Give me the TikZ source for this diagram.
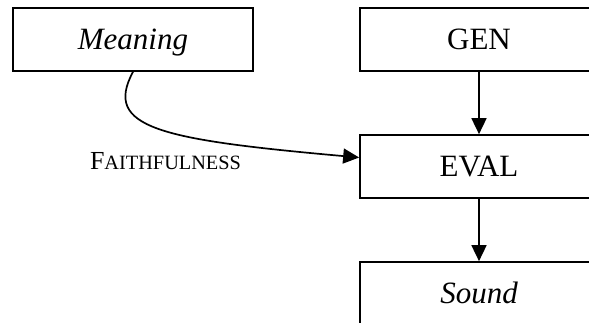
\documentclass[tikz,border=0pt]{standalone}
\usepackage{fontspec}
\setmainfont{Liberation Serif}
\usetikzlibrary{arrows.meta}
\begin{document}
\begin{tikzpicture}[x=1pt,y=-1pt,
  box/.style={draw,line width=1.7pt,minimum height=63pt,inner sep=0pt,
    text height=21pt,text depth=2pt,font=\fontsize{31}{31}\selectfont},
  conn/.style={line width=1.7pt,-{Triangle[length=16pt,width=15pt]}}]
\useasboundingbox (0,0) rectangle (589,322);
\clip (0,0) rectangle (589,322);
\node[box,minimum width=240pt] (meaning) at (133,39.5) {\itshape Meaning};
\node[box,minimum width=238pt] (gen) at (479,39.5) {GEN};
\node[box,minimum width=238pt] (eval) at (479,166.5) {EVAL};
\node[box,minimum width=238pt] (sound) at (479,293.5) {\itshape Sound};
\node[anchor=base,inner sep=0pt,font=\fontsize{26}{26}\selectfont] (faith) at (165.5,169)
  {F{\fontsize{20.3}{20.3}\selectfont AITHFULNESS}};
\draw[conn] (gen) -- (eval);
\draw[conn] (eval) -- (sound);
\draw[conn] (meaning.south) .. controls +(-30,56) and +(-200,-18) .. ([yshift=9pt]eval.west);
\end{tikzpicture}
\end{document}
